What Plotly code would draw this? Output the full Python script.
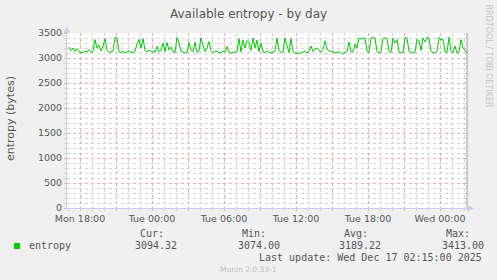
import plotly.graph_objects as go
import pandas as pd

# ---- data (10-minute samples) ----
start_time = "2025-12-15 17:05"
step_minutes = 10
entropy = [
    3220, 3150, 3200, 3130, 3190, 3120,
    3110, 3100, 3140, 3120, 3170, 3110,
    3130, 3370, 3200, 3260, 3140, 3230,
    3390, 3160, 3110, 3120, 3140, 3410,
    3400, 3120, 3110, 3130, 3100, 3120,
    3150, 3100, 3120, 3130, 3280, 3370,
    3200, 3390, 3150, 3120, 3160, 3130,
    3140, 3110, 3230, 3130, 3150, 3300,
    3130, 3310, 3160, 3220, 3120, 3110,
    3410, 3300, 3140, 3120, 3100, 3110,
    3310, 3160, 3130, 3320, 3110, 3140,
    3405, 3250, 3130, 3200, 3330, 3150,
    3110, 3130, 3140, 3110, 3100, 3140,
    3120, 3230, 3110, 3100, 3110, 3120,
    3130, 3390, 3120, 3360, 3200, 3350,
    3310, 3150, 3400, 3200, 3360, 3130,
    3300, 3120, 3110, 3140, 3110, 3100,
    3120, 3130, 3400, 3150, 3110, 3120,
    3400, 3250, 3110, 3390, 3130, 3100,
    3100, 3090, 3110, 3120, 3130, 3100,
    3140, 3240, 3130, 3180, 3200, 3150,
    3120, 3170, 3340, 3180, 3130, 3150,
    3120, 3100, 3110, 3130, 3100, 3080,
    3110, 3130, 3320, 3130, 3120, 3280,
    3200, 3400, 3380, 3390, 3400, 3130,
    3110, 3405, 3410, 3400, 3130, 3100,
    3120, 3390, 3400, 3390, 3130, 3110,
    3390, 3300, 3370, 3120, 3100, 3110,
    3410, 3400, 3130, 3110, 3100, 3120,
    3370, 3340, 3150, 3400, 3320, 3410,
    3400, 3130, 3100, 3110, 3130, 3410,
    3360, 3380, 3120, 3110, 3413, 3130,
    3110, 3240, 3100, 3120, 3370, 3200,
    3160, 3094,
]
times = pd.date_range(start_time, periods=len(entropy), freq=f"{step_minutes}min")

x_range = ["2025-12-15 16:55", "2025-12-17 02:15"]
x_tick_times = pd.date_range("2025-12-15 18:00", "2025-12-17 00:00", freq="3h")
x_tick_labels = ["Mon 18:00", "", "Tue 00:00", "", "Tue 06:00", "", "Tue 12:00", "",
                 "Tue 18:00", "", "Wed 00:00"]
y_ticks = [0, 500, 1000, 1500, 2000, 2500, 3000, 3500]

title = "Available entropy - by day"
y_title = "entropy (bytes)"
legend_name = "entropy"
stat_heads = ["Cur:", "Min:", "Avg:", "Max:"]
stat_values = ["3094.32", "3074.00", "3189.22", "3413.00"]
last_update = "Last update: Wed Dec 17 02:15:00 2025"
footer = "Munin 2.0.33-1"
side_text = "RRDTOOL / TOBI OETIKER"

# ---- layout constants ----
W, H = 497, 280
L, R, T, B = 67, 30, 33, 72
PW, PH = W - L - R, H - T - B

def px(x):
    return (x - L) / PW

def py(y):
    return (H - B - y) / PH

GREEN = "#00CC00"
TXT = "#555555"
MAJ = "#F4A8A8"
MIN = "#D4D4D4"
AXIS = "#C8CCF4"
SANS = "DejaVu Sans"
MONO = "DejaVu Sans Mono"

fig = go.Figure()
fig.add_trace(go.Scatter(x=times, y=entropy, mode="lines",
                         line=dict(color=GREEN, width=1), showlegend=False,
                         hoverinfo="skip"))

fig.update_layout(
    width=W, height=H,
    margin=dict(l=L, r=R, t=T, b=B),
    paper_bgcolor="#F0F0F0", plot_bgcolor="#FFFFFF",
    showlegend=False,
    font=dict(family=SANS, color=TXT, size=10),
)

fig.update_xaxes(
    range=x_range, type="date",
    tickmode="array", tickvals=list(x_tick_times), ticktext=x_tick_labels,
    showgrid=True, gridcolor=MAJ, griddash="dot", gridwidth=1,
    ticks="outside", ticklen=2, tickcolor=MAJ,
    tickfont=dict(family=SANS, size=9.5, color=TXT),
    minor=dict(dtick=3600000, tick0="2025-12-15 18:00", showgrid=True,
               gridcolor=MIN, griddash="dot", gridwidth=1,
               ticks="outside", ticklen=2, tickcolor=MIN),
    showline=True, linecolor=AXIS, linewidth=1, mirror=False,
    zeroline=False,
)
fig.update_yaxes(
    range=[0, 3500], tickmode="array", tickvals=y_ticks,
    showgrid=True, gridcolor=MAJ, griddash="dot", gridwidth=1,
    ticks="outside", ticklen=2, tickcolor=MAJ,
    tickfont=dict(family=SANS, size=9.5, color=TXT),
    minor=dict(dtick=100, showgrid=True, gridcolor=MIN, griddash="dot",
               gridwidth=1, ticks="outside", ticklen=2, tickcolor=MIN),
    showline=True, linecolor=AXIS, linewidth=1,
    zeroline=False,
)

# right-edge rule
fig.add_shape(type="line", xref="paper", yref="paper", x0=1, x1=1, y0=0, y1=1,
              line=dict(color="#999999", width=1))
# axis arrows
fig.add_shape(type="path", xref="paper", yref="paper",
              path=f"M {px(63.5)} {py(33)} L {px(70)} {py(33)} L {px(66.7)} {py(26.5)} Z",
              fillcolor=AXIS, line=dict(width=0))
fig.add_shape(type="path", xref="paper", yref="paper",
              path=f"M {px(467)} {py(205)} L {px(467)} {py(211.5)} L {px(474)} {py(208.3)} Z",
              fillcolor=AXIS, line=dict(width=0))

ann = []
ann.append(dict(text=title, x=px(248), y=py(14), font=dict(family=SANS, size=12, color=TXT)))
ann.append(dict(text=y_title, x=px(10), y=py(119), textangle=-90,
                font=dict(family=SANS, size=11, color=TXT)))
ann.append(dict(text=side_text, x=px(488.5), y=py(56), textangle=90,
                font=dict(family=SANS, size=8, color="#C4C4C4")))
ann.append(dict(text=legend_name, x=px(27), y=py(245.5), xanchor="left",
                font=dict(family=MONO, size=10, color=TXT)))
head_x = [151.5, 254, 356, 458]
val_x = [155.5, 258.5, 360, 462.5]
for hx, h in zip(head_x, stat_heads):
    ann.append(dict(text=h, x=px(hx), y=py(233.5), font=dict(family=MONO, size=10, color=TXT)))
for vx, v in zip(val_x, stat_values):
    ann.append(dict(text=v, x=px(vx), y=py(245.5), font=dict(family=MONO, size=10, color=TXT)))
ann.append(dict(text=last_update, x=px(483.5), y=py(257.5), xanchor="right",
                font=dict(family=MONO, size=10, color=TXT)))
ann.append(dict(text=footer, x=px(248.5), y=py(269.3),
                font=dict(family=SANS, size=7.5, color="#BBBBBB")))
for a in ann:
    a.setdefault("xanchor", "center")
    a.update(xref="paper", yref="paper", yanchor="middle", showarrow=False)
fig.update_layout(annotations=ann)

# legend colour box
fig.add_shape(type="rect", xref="paper", yref="paper",
              x0=px(14), x1=px(20), y0=py(249), y1=py(243),
              fillcolor=GREEN, line=dict(width=0))

fig.write_html("out.html")
